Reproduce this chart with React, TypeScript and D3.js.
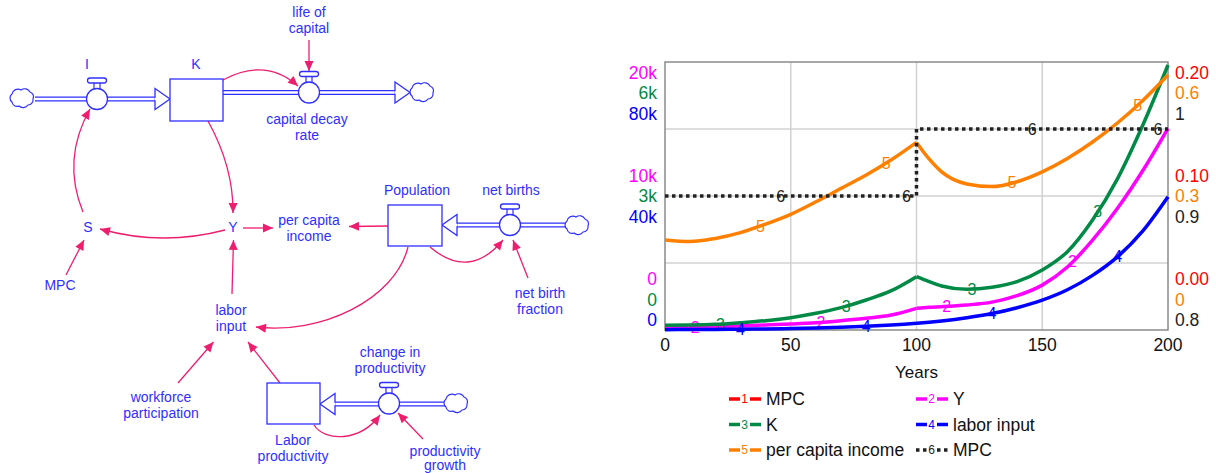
import React from "react";
import * as d3 from "d3";

// ---------------- chart data ----------------
const years = [0, 10, 20, 30, 40, 50, 60, 70, 80, 90, 100, 105, 110, 120, 130, 140, 150, 160, 170, 180, 190, 200];
const yValues = [200, 224, 246, 300, 373, 448, 545, 694, 873, 1119, 1617, 1694, 1741, 1866, 2080, 2560, 3350, 4700, 6700, 9100, 11900, 15050];
const kValues = [105, 110, 127, 164, 209, 276, 373, 500, 672, 880, 1194, 1082, 985, 911, 955, 1082, 1343, 1754, 2463, 3396, 4590, 5933];
const laborInputValues = [100, 135, 180, 245, 330, 445, 600, 815, 1100, 1480, 2000, 2320, 2700, 3650, 4900, 6650, 8900, 12000, 16300, 21900, 29600, 39800];
const perCapitaIncomeValues = [0.2015, 0.198, 0.205, 0.218, 0.237, 0.259, 0.287, 0.317, 0.347, 0.381, 0.42, 0.383, 0.354, 0.327, 0.321, 0.332, 0.354, 0.384, 0.421, 0.464, 0.514, 0.571];
const mpcYears = [0, 100, 200];
const mpcValues = [0.9, 0.95, 0.95];
const xTicks = [0, 50, 100, 150, 200];

const yTickLabels = ["0", "10k", "20k"];
const kTickLabels = ["0", "3k", "6k"];
const laborTickLabels = ["0", "40k", "80k"];
const mpcRedTickLabels = ["0.00", "0.10", "0.20"];
const pciTickLabels = ["0", "0.3", "0.6"];
const mpcTickLabels = ["0.8", "0.9", "1"];

const FONT = "'Liberation Sans', Arial, Helvetica, sans-serif";
const W = 1216;
const H = 473;
const plot = { left: 665, right: 1168, top: 62, bottom: 330 };

type Series = {
  id: number;
  name: string;
  color: string;
  xs: number[];
  vs: number[];
  domain: [number, number];
  labelAt: number[];
  kink: boolean;
  step: boolean;
  dotted: boolean;
};

const series: Series[] = [
  { id: 1, name: "MPC", color: "#ff0000", xs: mpcYears, vs: mpcValues, domain: [0, 0.2], labelAt: [4, 54, 104, 154], kink: false, step: true, dotted: false },
  { id: 2, name: "Y", color: "#ff00ff", xs: years, vs: yValues, domain: [0, 20000], labelAt: [12, 62, 112, 162], kink: true, step: false, dotted: false },
  { id: 3, name: "K", color: "#008a45", xs: years, vs: kValues, domain: [0, 6000], labelAt: [22, 72, 122, 172], kink: true, step: false, dotted: false },
  { id: 4, name: "labor input", color: "#0000ff", xs: years, vs: laborInputValues, domain: [0, 80000], labelAt: [30, 80, 130, 180], kink: false, step: false, dotted: false },
  { id: 5, name: "per capita income", color: "#ff8000", xs: years, vs: perCapitaIncomeValues, domain: [0, 0.6], labelAt: [38, 88, 138, 188], kink: true, step: false, dotted: false },
  { id: 6, name: "MPC", color: "#222222", xs: mpcYears, vs: mpcValues, domain: [0.8, 1], labelAt: [46, 96, 146, 196], kink: false, step: true, dotted: true },
];

const leftAxisGroups = [
  { labels: yTickLabels, color: "#ff00ff" },
  { labels: kTickLabels, color: "#008a45" },
  { labels: laborTickLabels, color: "#0000ff" },
];
const rightAxisGroups = [
  { labels: mpcRedTickLabels, color: "#ff0000" },
  { labels: pciTickLabels, color: "#ff8000" },
  { labels: mpcTickLabels, color: "#222222" },
];

// legend layout: [column, row]
const legendSlots: [number, number][] = [
  [0, 0], [1, 0], [0, 1], [1, 1], [0, 2], [1, 2],
];

// ---------------- stock & flow diagram ----------------
const BLUE = "#2f2fff";
const PINK = "#ee1e6e";

const stocks = [
  { x: 170, y: 79, w: 53, h: 42 },
  { x: 388, y: 205, w: 54, h: 41 },
  { x: 267, y: 383, w: 53, h: 41 },
];
const valves = [
  { cx: 97, cy: 99 },
  { cx: 309, cy: 92.5 },
  { cx: 510, cy: 225 },
  { cx: 389, cy: 403.5 },
];
const clouds = [
  { cx: 23, cy: 98 },
  { cx: 423, cy: 92 },
  { cx: 578, cy: 225 },
  { cx: 457, cy: 403 },
];
// pipes: from x1 to arrow tip; arrow base at "base"
const pipes = [
  { x1: 35, tip: 170, base: 155, y: 99 },
  { x1: 223, tip: 410, base: 395, y: 92.5 },
  { x1: 566, tip: 442, base: 457, y: 225 },
  { x1: 445, tip: 320, base: 335, y: 404 },
];
type Pt = [number, number];
const links: { from: Pt; c1?: Pt; c2?: Pt; to: Pt }[] = [
  { from: [309, 40], to: [309, 71] },
  { from: [223, 80], c1: [265.5, 57], to: [298, 86] },
  { from: [208, 121], c1: [233.5, 167], to: [233, 213] },
  { from: [83, 212], c1: [61.5, 159.5], to: [90, 109] },
  { from: [225, 230], c1: [162.5, 246.5], to: [100, 229] },
  { from: [243, 228], to: [273, 228] },
  { from: [66, 275], to: [84, 240] },
  { from: [232, 294], to: [233.5, 240] },
  { from: [388, 226], to: [349, 226.5] },
  { from: [430, 247], c1: [469.5, 280.5], to: [503, 240] },
  { from: [528, 278], to: [513, 240] },
  { from: [408, 247], c1: [395, 300], c2: [320, 335], to: [256, 327] },
  { from: [178, 383], to: [213.5, 342] },
  { from: [280, 383], to: [248, 342] },
  { from: [314, 425], c1: [325, 442], c2: [360, 442], to: [380, 415] },
  { from: [423, 439], to: [398, 413] },
];
const labels: { x: number; y: number; lines: string[]; gap?: number }[] = [
  { x: 87, y: 64, lines: ["I"] },
  { x: 196, y: 64, lines: ["K"] },
  { x: 309, y: 12, lines: ["life of", "capital"] },
  { x: 307, y: 119, lines: ["capital decay", "rate"] },
  { x: 88, y: 227, lines: ["S"] },
  { x: 233, y: 227, lines: ["Y"] },
  { x: 309, y: 220, lines: ["per capita", "income"] },
  { x: 60, y: 285, lines: ["MPC"] },
  { x: 417, y: 190, lines: ["Population"] },
  { x: 511, y: 190, lines: ["net births"] },
  { x: 540, y: 293, lines: ["net birth", "fraction"] },
  { x: 231, y: 310, lines: ["labor", "input"] },
  { x: 390, y: 352, lines: ["change in", "productivity"] },
  { x: 161, y: 397, lines: ["workforce", "participation"] },
  { x: 293, y: 440, lines: ["Labor", "productivity"] },
  { x: 445, y: 451, lines: ["productivity", "growth"], gap: 14 },
];

const cloudPath = "M -11,4 a5,5 0 0 1 0,-8 a6,6 0 0 1 9,-4 a6,6 0 0 1 9,2 a5,5 0 0 1 3,7 a5,5 0 0 1 -5,6 a6,6 0 0 1 -9,1 a5,5 0 0 1 -7,-4 z";

function arrowHead(tip: Pt, prev: Pt, len = 10, half = 4.5) {
  const dx = tip[0] - prev[0];
  const dy = tip[1] - prev[1];
  const d = Math.hypot(dx, dy) || 1;
  const ux = dx / d, uy = dy / d;
  const bx = tip[0] - ux * len, by = tip[1] - uy * len;
  return `M${tip[0]},${tip[1]} L${bx - uy * half},${by + ux * half} L${bx + uy * half},${by - ux * half} Z`;
}

function Diagram() {
  return (
    <g>
      {links.map((l, i) => {
        const p = d3.path();
        p.moveTo(l.from[0], l.from[1]);
        let prev: Pt = l.from;
        if (l.c1 && l.c2) {
          p.bezierCurveTo(l.c1[0], l.c1[1], l.c2[0], l.c2[1], l.to[0], l.to[1]);
          prev = l.c2;
        } else if (l.c1) {
          p.quadraticCurveTo(l.c1[0], l.c1[1], l.to[0], l.to[1]);
          prev = l.c1;
        } else {
          p.lineTo(l.to[0], l.to[1]);
        }
        return (
          <g key={"l" + i}>
            <path d={p.toString()} fill="none" stroke={PINK} strokeWidth={1.3} />
            <path d={arrowHead(l.to, prev)} fill={PINK} stroke="none" />
          </g>
        );
      })}
      {pipes.map((p, i) => {
        const dir = p.tip > p.x1 ? 1 : -1;
        return (
          <g key={"p" + i}>
            <line x1={p.x1} x2={p.base + dir * 2} y1={p.y} y2={p.y} stroke={BLUE} strokeWidth={5} />
            <line x1={p.x1 - dir * 0.8} x2={p.base + dir * 3} y1={p.y} y2={p.y} stroke="#fff" strokeWidth={2.4} />
            <path
              d={`M${p.base},${p.y - 10.5} L${p.tip},${p.y} L${p.base},${p.y + 10.5} Z`}
              fill="#fff"
              stroke={BLUE}
              strokeWidth={1.3}
              strokeLinejoin="miter"
            />
            <line x1={p.base - dir * 0.5} x2={p.base + dir * 3} y1={p.y} y2={p.y} stroke="#fff" strokeWidth={2.4} />
          </g>
        );
      })}
      {stocks.map((s, i) => (
        <rect key={"s" + i} x={s.x} y={s.y} width={s.w} height={s.h} fill="#fff" stroke={BLUE} strokeWidth={1.3} />
      ))}
      {valves.map((v, i) => (
        <g key={"v" + i}>
          <rect x={v.cx - 3} y={v.cy - 16.5} width={6} height={6.5} fill="#fff" stroke={BLUE} strokeWidth={1.2} />
          <rect x={v.cx - 9.5} y={v.cy - 21} width={19} height={5} rx={2.5} fill="#fff" stroke={BLUE} strokeWidth={1.3} />
          <circle cx={v.cx} cy={v.cy} r={10.5} fill="#fff" stroke={BLUE} strokeWidth={1.3} />
        </g>
      ))}
      {clouds.map((c, i) => (
        <path key={"c" + i} d={cloudPath} transform={`translate(${c.cx},${c.cy})`} fill="#fff" stroke={BLUE} strokeWidth={1.2} />
      ))}
      {labels.map((l, i) => (
        <text key={"t" + i} x={l.x} y={l.y} fill={BLUE} fontSize={14} fontFamily={FONT} textAnchor="middle">
          {l.lines.map((ln, j) => (
            <tspan key={j} x={l.x} y={l.y + j * (l.gap ?? 16)} dy="0.35em">
              {ln}
            </tspan>
          ))}
        </text>
      ))}
    </g>
  );
}

function valueAt(s: Series, t: number) {
  if (s.step) {
    let v = s.vs[0];
    for (let i = 0; i < s.xs.length; i++) if (s.xs[i] <= t) v = s.vs[i];
    return v;
  }
  return d3.scaleLinear().domain(s.xs).range(s.vs)(t);
}

function Chart() {
  const x = d3.scaleLinear().domain([0, 200]).range([plot.left, plot.right]);
  const yFrac = d3.scaleLinear().domain([0, 1]).range([plot.bottom, plot.top]);
  const gridY = [0.25, 0.5, 0.75].map((f) => yFrac(f));
  const tickFracs = [0, 0.5, 1];
  const groupCenter = (f: number) => Math.max(plot.top + 30.7, Math.min(plot.bottom - 30.7, yFrac(f)));

  return (
    <g fontFamily={FONT}>
      <defs>
        <clipPath id="plotClip">
          <rect x={plot.left} y={plot.top - 3} width={plot.right - plot.left + 2} height={plot.bottom - plot.top + 5} />
        </clipPath>
      </defs>
      {xTicks.slice(1, -1).map((t) => (
        <line key={"gx" + t} x1={x(t)} x2={x(t)} y1={plot.top} y2={plot.bottom} stroke="#d2d2d2" strokeWidth={1.5} />
      ))}
      {gridY.map((gy, i) => (
        <line key={"gy" + i} x1={plot.left} x2={plot.right} y1={gy} y2={gy} stroke="#d2d2d2" strokeWidth={1.5} />
      ))}
      <rect x={plot.left} y={plot.top} width={plot.right - plot.left} height={plot.bottom - plot.top} fill="none" stroke="#8a8a8a" strokeWidth={1.5} />

      {series.map((s) => {
        const y = d3.scaleLinear().domain(s.domain).range([plot.bottom, plot.top]);
        const pts: [number, number][] = s.xs.map((t, i) => [t, s.vs[i]]);
        const line = d3
          .line<[number, number]>()
          .x((d) => x(d[0]))
          .y((d) => y(d[1]))
          .curve(s.step ? d3.curveStepAfter : d3.curveMonotoneX);
        const segs = s.kink ? [pts.filter((p) => p[0] <= 100), pts.filter((p) => p[0] >= 100)] : [pts];
        return (
          <g key={"s" + s.id}>
            <g clipPath="url(#plotClip)">
              {segs.map((seg, i) => (
                <path
                  key={i}
                  d={line(seg) || ""}
                  fill="none"
                  stroke={s.color}
                  strokeWidth={3.5}
                  strokeDasharray={s.dotted ? "3.5 3.5" : undefined}
                  strokeLinejoin="round"
                />
              ))}
            </g>
            {s.labelAt.map((t) => {
              const ly = y(valueAt(s, t));
              if (ly < plot.top - 5 || ly > plot.bottom + 5) return null;
              return (
                <text key={"n" + t} x={x(t)} y={ly} dy="0.36em" textAnchor="middle" fontSize={16} fill={s.color}>
                  {s.id}
                </text>
              );
            })}
          </g>
        );
      })}

      {xTicks.map((t) => (
        <text key={"xt" + t} x={x(t)} y={345} dy="0.36em" textAnchor="middle" fontSize={17.5} fill="#111">
          {t}
        </text>
      ))}
      <text x={(plot.left + plot.right) / 2} y={372} dy="0.36em" textAnchor="middle" fontSize={17} fill="#111">
        Years
      </text>

      {tickFracs.map((f, ti) =>
        leftAxisGroups.map((g, gi) => (
          <text key={`la${ti}-${gi}`} x={657} y={groupCenter(f) + (gi - 1) * 20.5} dy="0.36em" textAnchor="end" fontSize={17.5} fill={g.color}>
            {g.labels[ti]}
          </text>
        ))
      )}
      {tickFracs.map((f, ti) =>
        rightAxisGroups.map((g, gi) => (
          <text key={`ra${ti}-${gi}`} x={1175} y={groupCenter(f) + (gi - 1) * 20.5} dy="0.36em" textAnchor="start" fontSize={17.5} fill={g.color}>
            {g.labels[ti]}
          </text>
        ))
      )}

      {series.map((s, i) => {
        const [col, row] = legendSlots[i];
        const x0 = col === 0 ? 729 : 916;
        const ly = [399, 424.5, 450][row];
        return (
          <g key={"lg" + s.id}>
            <line x1={x0} x2={x0 + 11} y1={ly} y2={ly} stroke={s.color} strokeWidth={3.5} strokeDasharray={s.dotted ? "3.5 3.5" : undefined} />
            <text x={x0 + 15.5} y={ly} dy="0.36em" textAnchor="middle" fontSize={12} fill={s.color}>
              {s.id}
            </text>
            <line x1={x0 + 21} x2={x0 + 32} y1={ly} y2={ly} stroke={s.color} strokeWidth={3.5} strokeDasharray={s.dotted ? "3.5 3.5" : undefined} />
            <text x={x0 + 37} y={ly} dy="0.36em" fontSize={17.5} fill="#111">
              {s.name}
            </text>
          </g>
        );
      })}
    </g>
  );
}

export default function App() {
  return (
    <svg
      width={W}
      height={H}
      viewBox={`0 0 ${W} ${H}`}
      style={{ position: "absolute", left: 0, top: 0, background: "#fff" }}
    >
      <rect x={0} y={0} width={W} height={H} fill="#fff" />
      <Diagram />
      <Chart />
    </svg>
  );
}
